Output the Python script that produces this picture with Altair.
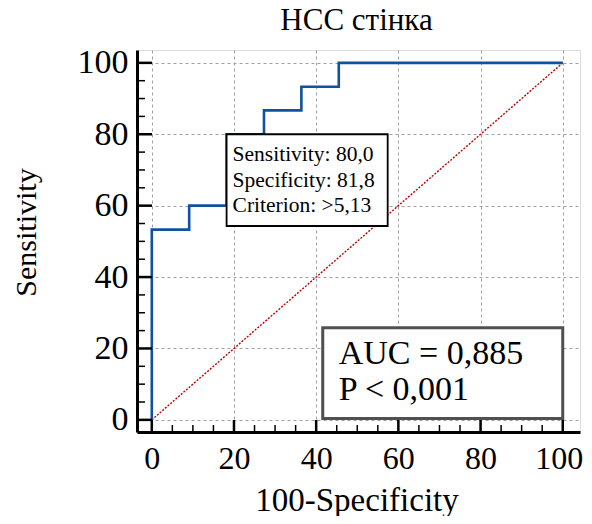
import altair as alt
import pandas as pd

# ROC curve vertices (100-Specificity, Sensitivity)
fpr = [0, 0, 9.1, 9.1, 18.2, 18.2, 27.3, 27.3, 36.4, 36.4, 45.5, 45.5, 100]
tpr = [0, 53.3, 53.3, 60, 60, 80, 80, 86.7, 86.7, 93.3, 93.3, 100, 100]
diag_x = [0, 100]
diag_y = [0, 100]
major_ticks = [0, 20, 40, 60, 80, 100]
minor_ticks = [5, 10, 15, 25, 30, 35, 45, 50, 55, 65, 70, 75, 85, 90, 95]

crit_x, crit_y = 18.2, 80.0
crit_text = "Sensitivity: 80,0\nSpecificity: 81,8\nCriterion: >5,13"
auc_text = "AUC = 0,885\nP < 0,001"

title = "НСС стінка"
x_title = "100-Specificity"
y_title = "Sensitivity"

FONT = "Liberation Serif"
W, H = 443, 382
XDOM = [-3.6, 104.2]
YDOM = [-3.4, 103.6]

roc = pd.DataFrame({"x": fpr, "y": tpr, "o": list(range(len(fpr)))})
diag = pd.DataFrame({"x": diag_x, "y": diag_y})
maj = pd.DataFrame({"v": major_ticks})
mnr = pd.DataFrame({"v": minor_ticks})

xs = alt.Scale(domain=XDOM, nice=False, zero=False)
ys = alt.Scale(domain=YDOM, nice=False, zero=False)

xaxis = alt.Axis(values=major_ticks, grid=True, gridDash=[3, 3], gridColor="#a0a0a0",
                 gridWidth=1, domainColor="black", domainWidth=3, ticks=False, tickSize=0,
                 labelFont=FONT, labelFontSize=32, labelColor="black", labelPadding=11,
                 labelFlush=False, labelOverlap=False,
                 labelOffset={"condition": {"test": "datum.value === 100", "value": -4}, "value": 0},
                 title=x_title, titleFont=FONT, titleFontSize=33, titleFontWeight="normal",
                 titleColor="black", titleY=78, titleX=W / 2 - 2, titleBaseline="alphabetic")
yaxis = alt.Axis(values=major_ticks, grid=True, gridDash=[3, 3], gridColor="#a0a0a0",
                 gridWidth=1, domainColor="black", domainWidth=3, ticks=False, tickSize=0,
                 labelFont=FONT, labelFontSize=34, labelColor="black", labelPadding=9,
                 labelFlush=False, labelOverlap=False,
                 title=y_title, titleFont=FONT, titleFontSize=30, titleFontWeight="normal",
                 titleColor="black", titleX=-102, titleY=182, titleAngle=270,
                 titleAlign="center", titleBaseline="alphabetic")

base_diag = alt.Chart(diag).mark_line(color="#c00000", strokeWidth=1.4, strokeDash=[2, 1.5]).encode(
    x=alt.X("x:Q", scale=xs, axis=xaxis),
    y=alt.Y("y:Q", scale=ys, axis=yaxis),
)

roc_line = alt.Chart(roc).mark_line(color="#11529e", strokeWidth=2.6, strokeJoin="miter").encode(
    x=alt.X("x:Q", scale=xs), y=alt.Y("y:Q", scale=ys), order="o:Q"
)

crit_box = alt.Chart(pd.DataFrame({"x": [crit_x], "x2": [57.4], "y": [crit_y], "y2": [54.3]})).mark_rect(
    fill="white", stroke="black", strokeWidth=1.8
).encode(x=alt.X("x:Q", scale=xs), x2="x2:Q", y=alt.Y("y:Q", scale=ys), y2="y2:Q")

crit_lbl = alt.Chart(pd.DataFrame({"x": [crit_x], "y": [crit_y], "t": [crit_text]})).mark_text(
    align="left", baseline="top", font=FONT, fontSize=21.5, color="black",
    lineBreak="\n", lineHeight=25.5, dx=6, dy=10
).encode(x=alt.X("x:Q", scale=xs), y=alt.Y("y:Q", scale=ys), text="t:N")

auc_box = alt.Chart(pd.DataFrame({"x": [41.6], "x2": [100], "y": [25.8], "y2": [0.4]})).mark_rect(
    fill="white", stroke="#505050", strokeWidth=3
).encode(x=alt.X("x:Q", scale=xs), x2="x2:Q", y=alt.Y("y:Q", scale=ys), y2="y2:Q")

auc_lbl = alt.Chart(pd.DataFrame({"x": [41.6], "y": [25.8], "t": [auc_text]})).mark_text(
    align="left", baseline="top", font=FONT, fontSize=34, color="black",
    lineBreak="\n", lineHeight=36, dx=16, dy=9
).encode(x=alt.X("x:Q", scale=xs), y=alt.Y("y:Q", scale=ys), text="t:N")

y_major = alt.Chart(maj).mark_rule(color="black", strokeWidth=2.5).encode(
    y=alt.Y("v:Q", scale=ys), x=alt.value(0), x2=alt.value(15))
y_minor = alt.Chart(mnr).mark_rule(color="black", strokeWidth=1.5).encode(
    y=alt.Y("v:Q", scale=ys), x=alt.value(0), x2=alt.value(8))
x_major = alt.Chart(maj).mark_rule(color="black", strokeWidth=2.5).encode(
    x=alt.X("v:Q", scale=xs), y=alt.value(H), y2=alt.value(H - 12))
x_minor = alt.Chart(mnr).mark_rule(color="black", strokeWidth=1.5).encode(
    x=alt.X("v:Q", scale=xs), y=alt.value(H), y2=alt.value(H - 7))

title_mark = alt.Chart(pd.DataFrame({"t": [title]})).mark_text(
    align="center", baseline="alphabetic", font=FONT, fontSize=31, color="black"
).encode(x=alt.value(W / 2 - 2), y=alt.value(-20), text="t:N")

chart = alt.layer(
    base_diag, roc_line, crit_box, crit_lbl, auc_box, auc_lbl,
    y_major, y_minor, x_major, x_minor, title_mark
).properties(
    width=W, height=H,
    autosize=alt.AutoSizeParams(type="none"),
    padding={"left": 129, "top": 42, "right": 4, "bottom": 84},
).configure_view(stroke=None).configure(background="white")

chart.save("out.html", embed_options={"renderer": "svg", "actions": False})
